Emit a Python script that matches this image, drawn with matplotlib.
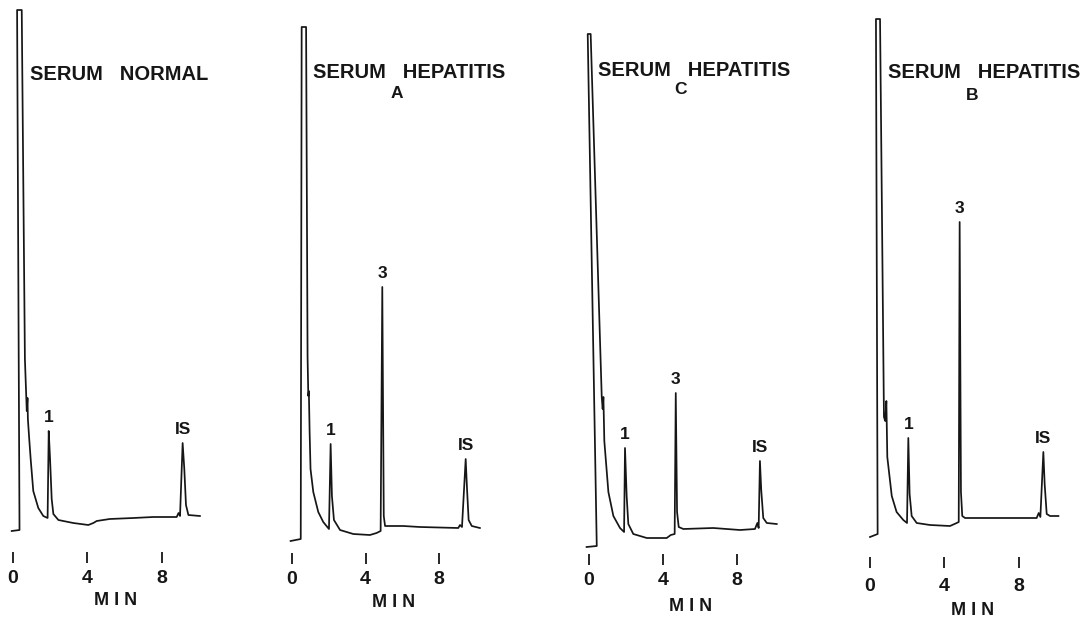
import matplotlib
matplotlib.use("Agg")
import matplotlib.pyplot as plt

# ---------------- data: retention time (min) and detector response (a.u.) ----------------
normal_time = [-0.07, 0.35, 0.22, 0.47, 0.64, 0.74, 0.78, 0.80, 0.88, 0.95, 1.09, 1.36, 1.63,
               1.86, 1.92, 1.99, 2.08, 2.17, 2.44, 3.24, 4.05, 4.32, 4.5, 5.2, 6.47, 7.54,
               8.8, 8.9, 8.98, 9.12, 9.21, 9.3, 9.43, 10.05]
normal_resp = [0, 1, 521, 521, 172, 120, 133, 112, 90, 72, 40, 23, 15,
               13, 100, 73, 32, 17, 11, 8, 6, 8, 10, 12, 13, 14,
               14, 18, 15, 88, 62, 26, 16, 15]

hepA_time = [-0.06, 0.49, 0.54, 0.78, 0.86, 0.90, 0.93, 0.97, 1.02, 1.17, 1.44, 1.71, 2.02,
             2.11, 2.18, 2.29, 2.62, 3.34, 4.24, 4.6, 4.82, 4.91, 4.99, 5.06, 6.05, 6.95,
             9.03, 9.12, 9.23, 9.43, 9.5, 9.59, 9.76, 10.2]
hepA_resp = [0, 2, 514, 514, 184, 145, 150, 110, 72, 49, 29, 19, 12,
             97, 45, 21, 11, 7, 6, 8, 10, 254, 25, 15, 15, 14,
             13, 16, 14, 82, 53, 21, 15, 13]

hepC_time = [-0.13, 0.42, -0.07, 0.09, 0.69, 0.74, 0.78, 0.83, 1.05, 1.32, 1.68, 1.9, 1.95,
             2.04, 2.13, 2.4, 3.13, 4.21, 4.43, 4.64, 4.7, 4.77, 4.86, 5.11, 6.73, 8.18,
             8.99, 9.12, 9.19, 9.26, 9.33, 9.44, 9.63, 10.17]
hepC_resp = [0, 1, 513, 513, 150, 138, 150, 106, 55, 31, 19, 15, 99,
             51, 23, 13, 9, 9, 12, 13, 154, 35, 20, 18, 19, 17,
             18, 24, 19, 86, 57, 29, 24, 23]

hepB_time = [0.0, 0.41, 0.32, 0.54, 0.75, 0.82, 0.88, 0.93, 1.17, 1.43, 1.79, 1.99, 2.06,
             2.13, 2.24, 2.51, 3.23, 4.3, 4.66, 4.77, 4.82, 4.89, 4.96, 5.11, 7.53, 8.96,
             9.07, 9.16, 9.32, 9.39, 9.5, 9.68, 10.13]
hepB_resp = [0, 3, 518, 518, 120, 116, 136, 80, 41, 25, 17, 14, 99,
             43, 21, 14, 12, 11, 14, 15, 315, 45, 21, 19, 19, 19,
             24, 20, 85, 53, 23, 21, 21]

panel_titles = ["SERUM   NORMAL", "SERUM   HEPATITIS", "SERUM   HEPATITIS", "SERUM   HEPATITIS"]
panel_subtitles = ["", "A", "C", "B"]

normal_peak_names = ["1", "IS"]
normal_peak_times = [1.92, 9.12]
hepA_peak_names = ["1", "3", "IS"]
hepA_peak_times = [2.11, 4.91, 9.43]
hepC_peak_names = ["1", "3", "IS"]
hepC_peak_times = [1.95, 4.7, 9.26]
hepB_peak_names = ["1", "3", "IS"]
hepB_peak_times = [2.06, 4.82, 9.32]

x_ticks = [0, 4, 8]
x_tick_labels = ["0", "4", "8"]
x_label = "M I N"

# ---------------- layout ----------------
plt.rcParams['font.family'] = ['Liberation Sans', 'DejaVu Sans']
W, H = 1089, 628
fig = plt.figure(figsize=(W / 100, H / 100), dpi=100)
fig.patch.set_facecolor('white')

# (x of t=0 [px], px per min, y of zero response [px], y of tick top [px],
#  tick label pad [pt], y of MIN top [px])
geom = [(13, 18.6, 531, 552, 5.0, 592),
        (291.7, 18.45, 541, 553, 5.0, 594),
        (589, 18.46, 547, 554, 5.0, 598),
        (870, 18.6, 537, 557, 7.0, 602)]
title_pos = [(30, 75), (313, 73), (598, 70), (888, 73)]
sub_pos = [None, (397, 93), (680, 89), (972, 95)]

series = [(normal_time, normal_resp, normal_peak_names, normal_peak_times),
          (hepA_time, hepA_resp, hepA_peak_names, hepA_peak_times),
          (hepC_time, hepC_resp, hepC_peak_names, hepC_peak_times),
          (hepB_time, hepB_resp, hepB_peak_names, hepB_peak_times)]

XMIN, XMAX = -0.7, 11.0
INK = '#161616'

for i, (t, r, names, ptimes) in enumerate(series):
    x0, s, base, ttop, tpad, mtop = geom[i]
    left = (x0 + XMIN * s) / W
    width = (XMAX - XMIN) * s / W
    ax = fig.add_axes([left, (H - ttop) / H, width, ttop / H])
    ax.plot(t, r, color=INK, lw=1.25, solid_joinstyle='round', clip_on=False)
    ax.set_xlim(XMIN, XMAX)
    ax.set_ylim(base - ttop, base)
    for sp in ax.spines.values():
        sp.set_visible(False)
    ax.set_yticks([])
    ax.set_xticks(x_ticks)
    ax.set_xticklabels(x_tick_labels, fontsize=14, fontweight='bold')
    ax.tick_params(axis='x', direction='out', length=8, width=1.3, pad=tpad, colors=INK)
    ax.set_xlabel(x_label, fontsize=13, fontweight='bold', color=INK)
    ax.xaxis.set_label_coords((5.5 - XMIN) / (XMAX - XMIN), (ttop - mtop) / ttop)
    ax.patch.set_alpha(0)

    for name, tp in zip(names, ptimes):
        rp = max(rv for tv, rv in zip(t, r) if abs(tv - tp) < 0.12)
        ax.annotate(name, xy=(tp, rp), xytext=(0, 4), textcoords='offset points',
                    ha='center', va='bottom', fontsize=12.5, fontweight='bold', color=INK)

    tx, ty = title_pos[i]
    fig.text(tx / W, 1 - ty / H, panel_titles[i], ha='left', va='center',
             fontsize=14.5, fontweight='bold', color=INK)
    if panel_subtitles[i]:
        sx, sy = sub_pos[i]
        fig.text(sx / W, 1 - sy / H, panel_subtitles[i], ha='center', va='center',
                 fontsize=12.5, fontweight='bold', color=INK)

fig.savefig("out.png", dpi=100, facecolor='white')
